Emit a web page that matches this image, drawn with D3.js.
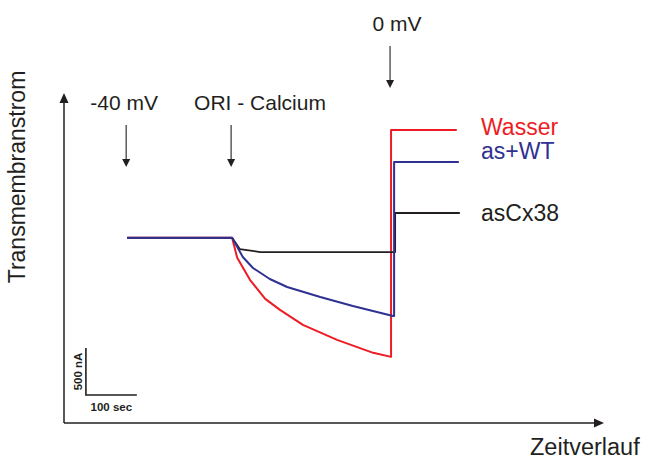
<!DOCTYPE html>
<html>
<head>
<meta charset="utf-8">
<script src="https://cdn.jsdelivr.net/npm/d3@7"></script>
<style>
  body { margin: 0; background: #fff; }
  text { font-family: "Liberation Sans", Arial, sans-serif; fill: #231f20; }
</style>
</head>
<body>
<div id="chart"></div>
<script>
// time in sec, current in nA (relative to holding current)
const wasser = [[124, 0], [330, 0], [340, -213], [365, -447], [395, -649], [424, -766], [469, -926],
                [536, -1085], [607, -1223], [642, -1266], [642, 1146], [771, 1146]];
const asWT = [[124, 0], [330, 0], [338, -77], [351, -204], [371, -321], [404, -438], [438, -523],
              [503, -629], [567, -725], [646, -831], [648, -831], [648, 806], [775, 806]];
const asCx38 = [[124, 0], [330, 0], [345, -119], [385, -151], [646, -151], [650, -151], [650, 264], [777, 264]];

const seriesNames = ["Wasser", "asCx38", "as+WT"];
const seriesData = [wasser, asCx38, asWT];
const seriesColors = ["#ed1c24", "#231f20", "#2e3192"];

const events = ["-40 mV", "ORI - Calcium", "0 mV"];
const eventTimes = [124, 330, 642];

const scaleBarTime = 100;   // sec
const scaleBarCurrent = 500; // nA

const width = 650, height = 461;
const svg = d3.select("#chart").append("svg")
    .attr("width", width)
    .attr("height", height);

const x = d3.scaleLinear().domain([0, 1060]).range([64, 604]);
const y = d3.scaleLinear().domain([-1969, 1540]).range([423, 93]);

// axes with arrow heads
const axisColor = "#231f20";
svg.append("line")
    .attr("x1", x(0)).attr("y1", y(-1969))
    .attr("x2", x(0)).attr("y2", y(1540) + 6)
    .attr("stroke", axisColor).attr("stroke-width", 1.5);
svg.append("path")
    .attr("d", `M${x(0)},${y(1540)} l-4.5,10 l9,0 z`)
    .attr("fill", axisColor);
svg.append("line")
    .attr("x1", x(0)).attr("y1", y(-1969))
    .attr("x2", x(1060) - 6).attr("y2", y(-1969))
    .attr("stroke", axisColor).attr("stroke-width", 1.5);
svg.append("path")
    .attr("d", `M${x(1060)},${y(-1969)} l-10,-4.5 l0,9 z`)
    .attr("fill", axisColor);

svg.append("text")
    .attr("transform", `translate(25, 177) rotate(-90)`)
    .attr("text-anchor", "middle")
    .style("font-size", "23px")
    .text("Transmembranstrom");

svg.append("text")
    .attr("x", 530).attr("y", 455)
    .style("font-size", "23.5px")
    .text("Zeitverlauf");

// traces
const line = d3.line()
    .x(d => x(d[0]))
    .y(d => y(d[1]));

seriesData.forEach((s, i) => {
    svg.append("path")
        .datum(s)
        .attr("fill", "none")
        .attr("stroke", seriesColors[i])
        .attr("stroke-width", i === 1 ? 1.8 : 2)
        .attr("stroke-linejoin", "round")
        .attr("d", line);
});

// labels at the line ends
const labelDy = [5, 8, -3];
seriesData.forEach((s, i) => {
    const last = s[s.length - 1];
    svg.append("text")
        .attr("x", 481)
        .attr("y", y(last[1]) + labelDy[i])
        .style("font-size", "23px")
        .style("fill", seriesColors[i])
        .text(seriesNames[i]);
});

// event arrows
const arrowTop = [125, 125, 46], arrowTip = [167, 167, 88];
const labelY = [110, 110, 31];
const labelAnchor = ["middle", "start", "middle"];
const labelDx = [-2, -37, 7];
events.forEach((ev, i) => {
    const ax = x(eventTimes[i]) - 1;
    svg.append("line")
        .attr("x1", ax).attr("y1", arrowTop[i])
        .attr("x2", ax).attr("y2", arrowTip[i] - 6)
        .attr("stroke", "#333").attr("stroke-width", 1.2);
    svg.append("path")
        .attr("d", `M${ax},${arrowTip[i]} l-4,-8 l8,0 z`)
        .attr("fill", "#231f20");
    svg.append("text")
        .attr("x", ax + labelDx[i])
        .attr("y", labelY[i])
        .attr("text-anchor", labelAnchor[i])
        .style("font-size", "21px")
        .text(ev);
});

// scale bar
const sb = svg.append("g");
const t0 = 43, i0 = -1671;
sb.append("path")
    .attr("d", `M${x(t0)},${y(i0 + scaleBarCurrent)} L${x(t0)},${y(i0)} L${x(t0 + scaleBarTime)},${y(i0)}`)
    .attr("fill", "none")
    .attr("stroke", "#231f20")
    .attr("stroke-width", 1.6);
sb.append("text")
    .attr("transform", `translate(${x(t0) - 4}, ${y(i0 + scaleBarCurrent / 2)}) rotate(-90)`)
    .attr("text-anchor", "middle")
    .style("font-size", "11.5px")
    .style("font-weight", "bold")
    .text(`${scaleBarCurrent} nA`);
sb.append("text")
    .attr("x", x(t0 + scaleBarTime / 2))
    .attr("y", y(i0) + 16)
    .attr("text-anchor", "middle")
    .style("font-size", "11.5px")
    .style("font-weight", "bold")
    .text(`${scaleBarTime} sec`);
</script>
</body>
</html>
